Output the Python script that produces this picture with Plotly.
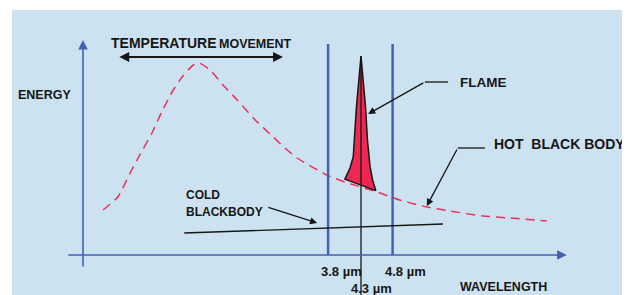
import plotly.graph_objects as go

# ---------------- data (x = wavelength in µm, y = relative energy) ----------------
hot_wavelength = [0.31, 0.54, 0.73, 0.88, 1.07, 1.22, 1.40, 1.55, 1.71, 1.80, 1.97, 2.17, 2.39,
                  2.67, 2.95, 3.13, 3.32, 3.78, 4.06, 4.56, 4.91, 5.33, 5.69, 6.20, 6.62, 7.19]
hot_energy = [2.25, 2.9, 4.1, 5.0, 6.1, 7.15, 8.25, 8.95, 9.5, 9.6, 9.25, 8.5, 7.75,
              6.75, 5.9, 5.35, 4.85, 4.0, 3.65, 3.15, 2.75, 2.4, 2.2, 1.95, 1.85, 1.7]

flame_wavelength = [4.31, 4.38, 4.41, 4.45, 4.49, 4.54, 4.06, 4.14, 4.19, 4.24, 4.31]
flame_energy = [9.95, 7.42, 5.75, 4.42, 3.75, 3.22, 3.79, 4.35, 4.92, 7.42, 9.95]

cold_wavelength = [1.57, 5.58]
cold_energy = [1.1, 1.55]

band_edges = [3.8, 4.8]
band_labels = ["3.8 µm", "4.8 µm"]
band_top = 10.55
flame_peak_wavelength = 4.3
flame_peak_label = "4.3 µm"

BG = "#CCE2F0"
BLUE = "#4262B8"
RED = "#E8305A"
FLAME = "#EE2852"
INK = "#161616"
FONT = "Liberation Sans, Arial, sans-serif"

fig = go.Figure()

# hot black body (dashed)
fig.add_trace(go.Scatter(x=hot_wavelength, y=hot_energy, mode="lines",
                         line=dict(color=RED, width=1.5, dash="9px,6px", shape="spline", smoothing=0.6),
                         hoverinfo="skip"))

# band edges
for w in band_edges:
    fig.add_trace(go.Scatter(x=[w, w], y=[0, band_top], mode="lines",
                             line=dict(color=BLUE, width=2.5), hoverinfo="skip"))

# cold blackbody line
fig.add_trace(go.Scatter(x=cold_wavelength, y=cold_energy, mode="lines",
                         line=dict(color=INK, width=1.3), hoverinfo="skip"))

# flame
fig.add_trace(go.Scatter(x=flame_wavelength, y=flame_energy, mode="lines", fill="toself",
                         fillcolor=FLAME, line=dict(color=INK, width=1.5), hoverinfo="skip"))

# 4.3 µm line
fig.add_trace(go.Scatter(x=[flame_peak_wavelength + 0.01, flame_peak_wavelength + 0.01], y=[9.95, -2.0],
                         mode="lines", line=dict(color=INK, width=1.3), hoverinfo="skip", cliponaxis=False))

# leader elbows
fig.add_trace(go.Scatter(x=[5.30, 5.66], y=[8.65, 8.65], mode="lines",
                         line=dict(color=INK, width=1.3), hoverinfo="skip"))
fig.add_trace(go.Scatter(x=[5.81, 6.23], y=[5.35, 5.35], mode="lines",
                         line=dict(color=INK, width=1.3), hoverinfo="skip"))

ann = []
# axes arrows
ann.append(dict(x=0, y=10.75, ax=0, ay=-0.65, xref="x", yref="y", axref="x", ayref="y", text="",
                showarrow=True, arrowhead=2, arrowsize=1.2, arrowwidth=1.6, arrowcolor=BLUE))
ann.append(dict(x=7.5, y=0, ax=-0.25, ay=0, xref="x", yref="y", axref="x", ayref="y", text="",
                showarrow=True, arrowhead=2, arrowsize=1.2, arrowwidth=1.6, arrowcolor=BLUE))
# temperature movement double arrow
ann.append(dict(x=3.10, y=9.9, ax=0.54, ay=9.9, xref="x", yref="y", axref="x", ayref="y", text="",
                showarrow=True, arrowhead=2, startarrowhead=2, arrowside="end+start",
                arrowsize=1.1, startarrowsize=1.1, arrowwidth=1.8, arrowcolor=INK))
# flame arrow
ann.append(dict(x=4.42, y=7.05, ax=5.30, ay=8.65, xref="x", yref="y", axref="x", ayref="y", text="",
                showarrow=True, arrowhead=2, arrowsize=1.1, arrowwidth=1.3, arrowcolor=INK))
# hot black body arrow
ann.append(dict(x=5.33, y=2.45, ax=5.81, ay=5.35, xref="x", yref="y", axref="x", ayref="y", text="",
                showarrow=True, arrowhead=2, arrowsize=1.1, arrowwidth=1.3, arrowcolor=INK))
# cold arrow
ann.append(dict(x=3.63, y=1.6, ax=2.85, ay=2.4, xref="x", yref="y", axref="x", ayref="y", text="",
                showarrow=True, arrowhead=2, arrowsize=1.1, arrowwidth=1.3, arrowcolor=INK))


def label(text, x, y, size, xanchor="left", yanchor="middle"):
    ann.append(dict(x=x, y=y, xref="x", yref="y", text="<b>" + text + "</b>", showarrow=False,
                    xanchor=xanchor, yanchor=yanchor, font=dict(family=FONT, size=size, color=INK),
                    borderpad=0))


label("TEMPERATURE", 0.42, 10.6, 14)
label("MOVEMENT", 2.09, 10.55, 12.5)
label("ENERGY", -1.02, 8.0, 12.5)
label("FLAME", 5.83, 8.65, 13.5)
label("HOT  BLACK BODY", 6.36, 5.55, 14)
label("COLD", 1.58, 3.0, 12)
label("BLACKBODY", 1.58, 2.15, 12)
label("WAVELENGTH", 5.83, -1.6, 12.5)
for w, t in zip(band_edges, band_labels):
    label(t, w + 0.2, -0.8, 13, xanchor="center")
label(flame_peak_label, flame_peak_wavelength + 0.17, -1.65, 13, xanchor="center")

# the page body adds an 8px margin, so the figure is sized to fill the rest of the window
fig.update_layout(
    width=622, height=287,
    margin=dict(l=4, r=0, t=2, b=0),
    paper_bgcolor="white", plot_bgcolor=BG,
    showlegend=False,
    xaxis=dict(range=[-1.1008, 8.4806], visible=False, fixedrange=True),
    yaxis=dict(range=[-2.0, 12.25], visible=False, fixedrange=True),
    annotations=ann,
)

fig.write_html("out.html")
